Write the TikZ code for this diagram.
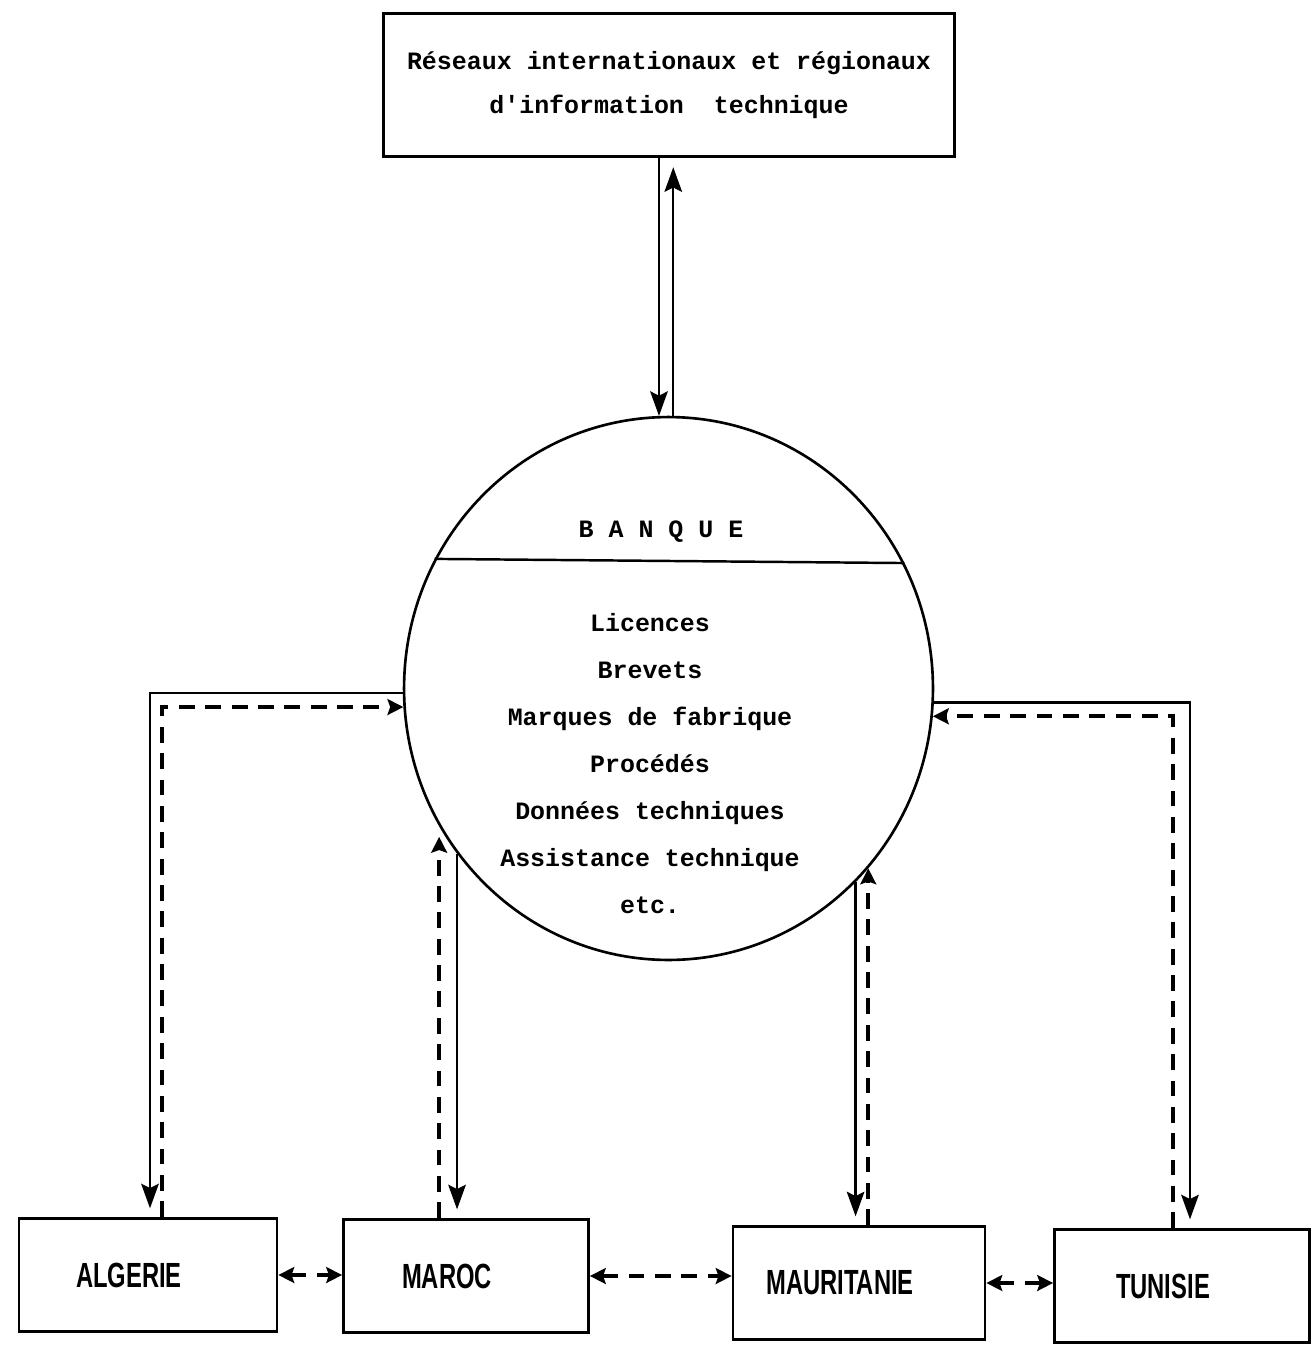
\documentclass[tikz,border=0pt]{standalone}
\usepackage{fontspec}
\usepackage{tikz}
\usetikzlibrary{shapes.geometric,arrows.meta}
\newfontfamily\machine{Liberation Mono}
\newfontfamily\plotter[FakeStretch=0.68]{Liberation Sans}

\begin{document}
\begin{tikzpicture}[x=0.02cm, y=-0.02cm, >=Stealth,
		boite/.style={draw, line width=1.7pt, align=center, font=\machine\bfseries\fontsize{14.2pt}{25pt}\selectfont},
		pays/.style={draw, line width=1.6pt, minimum height=2.26cm, label={[xshift=-0.38cm, font=\plotter\bfseries\fontsize{19.9pt}{20pt}\selectfont]center:#1}},
		flux/.style={-{Stealth[length=14pt, width=10pt, inset=2.5pt]}, line width=1.4pt, shorten >=5pt},
		retour/.style={-{Stealth[length=9pt, width=9pt, inset=1.5pt]}, line width=2.2pt, dash pattern=on 9pt off 6pt},
		lien/.style={{Stealth[length=9pt, width=9pt, inset=1.5pt]}-{Stealth[length=9pt, width=9pt, inset=1.5pt]}, line width=2.2pt, dash pattern=on 9pt off 6pt}]
		\useasboundingbox (0,0) rectangle (1311,1352);

		\node[boite, minimum width=11.44cm, minimum height=2.88cm] (reseau) at (669,85) {Réseaux internationaux et régionaux\\d\textquotesingle information\ \ technique};
		\node[ellipse, draw, line width=1.5pt, inner sep=0pt, minimum width=10.58cm, minimum height=10.86cm] (banque) at (668.5,688.5) {};
		\node[font=\machine\bfseries\fontsize{14.2pt}{25pt}\selectfont] (titre) at (661,532) {B A N Q U E};
		\node[align=center, font=\machine\bfseries\fontsize{14.2pt}{26.7pt}\selectfont] (contenu) at (650,763.5) {Licences\\Brevets\\Marques de fabrique\\Procédés\\Données techniques\\Assistance technique\\etc.};

		\node[pays=ALGERIE, minimum width=5.16cm] (alg) at (148,1275) {};
		\node[pays=MAROC, minimum width=4.9cm] (maroc) at (466,1276) {};
		\node[pays=MAURITANIE, minimum width=5.04cm] (maur) at (859,1283) {};
		\node[pays=TUNISIE, minimum width=5.1cm] (tun) at (1182,1286) {};

		\draw[line width=1.4pt] (banque.151.1) -- (banque.28.9);

		\draw[flux, shorten >=0pt] (banque.92.4 |- reseau.south) -- (banque.92.4);
		\draw[flux] (banque.89.7) -- (banque.89.7 |- reseau.south);

		\draw[flux] (banque.181) -| ([xshift=0.04cm]alg.north);
		\draw[retour] ([xshift=0.28cm]alg.north) |- (banque.184);
		\draw[flux] (banque.218.35) -- (banque.218.35 |- maroc.north);
		\draw[retour, shorten >=6pt] (banque.211.75 |- maroc.north) -- (banque.211.75);
		\draw[flux] (banque.314.1) -- (banque.314.1 |- maur.north);
		\draw[retour] (banque.318.9 |- maur.north) -- (banque.318.9);
		\draw[flux] (banque.357.1) -| ([xshift=0.16cm]tun.north);
		\draw[retour] ([xshift=-0.18cm]tun.north) |- (banque.354.25);

		\draw[lien] (alg.east) -- (alg.east -| maroc.west);
		\draw[lien] (maroc.east) -- (maroc.east -| maur.west);
		\draw[lien] (maur.east) -- (maur.east -| tun.west);
	\end{tikzpicture}
\end{document}
